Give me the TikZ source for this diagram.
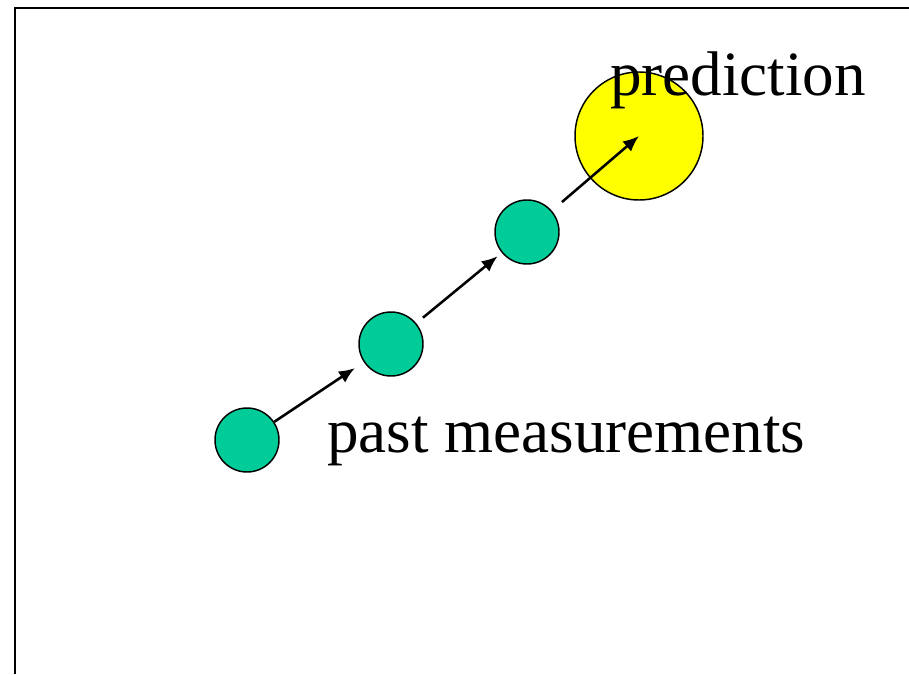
\documentclass[tikz,border=0pt]{standalone}
\usepackage{fontspec}
\setmainfont{Liberation Serif}
\usetikzlibrary{arrows.meta,positioning}

\definecolor{measgreen}{RGB}{0,204,153}
\definecolor{predyellow}{RGB}{255,255,0}

\begin{document}
\begin{tikzpicture}[
  x=0.75pt, y=-0.75pt,
  >={Latex[length=12pt,width=10pt]},
  meas/.style={circle, draw, line width=1.1pt, fill=measgreen, minimum size=48pt, inner sep=0pt},
  pred/.style={circle, draw, line width=1.1pt, fill=predyellow, minimum size=96pt, inner sep=0pt},
  lbl/.style={anchor=base west, inner sep=0pt, font=\fontsize{47.3}{56}\selectfont},
  step arrow/.style={draw, ->, line width=1.9pt}
]
  \useasboundingbox (0,0) rectangle (909,674);
  \draw[line width=1.5pt] (909,8) -- (15,8) -- (15,674);

  \node[meas] (m1) at (247,440) {};
  \node[meas] (m2) at (391,344) {};
  \node[meas] (m3) at (527,232) {};
  \node[pred] (yel) at (639,136) {};

  \path[step arrow, shorten >=8pt] (m1) -- (m2);
  \path[step arrow, shorten <=6.5pt, shorten >=4pt] (m2) -- (m3);
  \path[step arrow, shorten <=10pt] (m3) -- (yel.center);

  \node[lbl] (predtxt) at (610,95) {prediction};
  \node[lbl] (pasttxt) at (327,452) {past measurements};
\end{tikzpicture}
\end{document}
